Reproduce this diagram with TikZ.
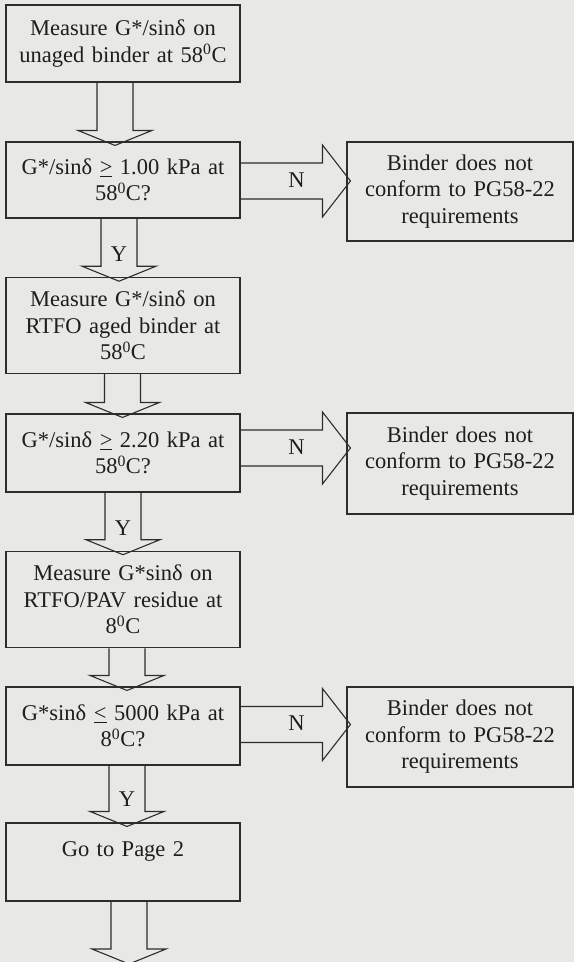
\documentclass[tikz,border=0pt]{standalone}
\usepackage{fontspec}
\setmainfont{Liberation Serif}
\usetikzlibrary{calc}
\definecolor{bg}{RGB}{232,232,230}
\definecolor{ln}{RGB}{45,45,45}
\definecolor{tx}{RGB}{30,30,30}
\newcommand{\gequl}{\underline{>}}
\newcommand{\lequl}{\underline{<}}
\newcommand{\vblock}[4]{%
  \coordinate (vbx) at (#3,0);
  \coordinate (vbs) at (#1 -| vbx);
  \coordinate (vbt) at ($(#2 -| vbx)+(0,4)$);
  \draw[blk] ($(vbs)+(-18,0)$) -- ($(vbt)+(-18,-15)$) -- ($(vbt)+(-37,-15)$) -- (vbt)
    -- ($(vbt)+(37,-15)$) -- ($(vbt)+(18,-15)$) -- ($(vbs)+(18,0)$);
  \node[lbl] at ($(vbt)+(0,-27)$) {#4};
}
\newcommand{\hblock}[4]{%
  \coordinate (hby) at (0,#3);
  \coordinate (hbs) at (#1.east |- hby);
  \coordinate (hbt) at ($(#2.west |- hby)+(4,0)$);
  \draw[blk] ($(hbs)+(0,-18)$) -- ($(hbt)+(-28,-18)$) -- ($(hbt)+(-28,-36)$) -- (hbt)
    -- ($(hbt)+(-28,36)$) -- ($(hbt)+(-28,18)$) -- ($(hbs)+(0,18)$);
  \node[lbl] at ($(hbt)+(-54,-1)$) {#4};
}
\begin{document}
\begin{tikzpicture}[x=1pt,y=-1pt,
  box/.style={draw=ln,line width=1.1pt,inner sep=0pt,text width=234pt,minimum width=234pt,align=center,
    text=tx,font=\fontsize{22.5}{26.5}\selectfont},
  rbox/.style={box,text width=226pt,minimum width=226pt},
  blk/.style={draw=ln,line width=1.1pt,line join=miter},
  lbl/.style={text=tx,font=\fontsize{22.5}{26.5}\selectfont,inner sep=0pt}]
\fill[bg] (0,0) rectangle (574,962);
\useasboundingbox (0,0) rectangle (574,962);
\clip (0,0) rectangle (574,962);
\node[box,minimum height=77pt] (b1) at (123,43.5) {Measure G*/sinδ on\\unaged binder at 58\textsuperscript{0}C};
\node[box,minimum height=76pt] (b2) at (123,180) {G*/sinδ \gequl{} 1.00 kPa at\\58\textsuperscript{0}C?};
\node[rbox,minimum height=99pt] (r1) at (460,191.5) {Binder does not\\conform to PG58-22\\requirements};
\node[box,minimum height=95.5pt] (b3) at (123,325.5) {Measure G*/sinδ on\\RTFO aged binder at\\58\textsuperscript{0}C};
\node[box,minimum height=78pt] (b4) at (123,453) {G*/sinδ \gequl{} 2.20 kPa at\\58\textsuperscript{0}C?};
\node[rbox,minimum height=101pt] (r2) at (460,463.5) {Binder does not\\conform to PG58-22\\requirements};
\node[box,minimum height=96.5pt] (b5) at (123,599.5) {Measure G*sinδ on\\RTFO/PAV residue at\\8\textsuperscript{0}C};
\node[box,minimum height=78pt] (b6) at (123,726) {G*sinδ \lequl{} 5000 kPa at\\8\textsuperscript{0}C?};
\node[rbox,minimum height=100pt] (r3) at (460,737) {Binder does not\\conform to PG58-22\\requirements};
\node[box,minimum height=78pt] (b7) at (123,862) {Go to Page 2\\\mbox{}};
\coordinate (pgend) at (0,960);
\vblock{b1.south}{b2.north}{115}{}
\hblock{b2}{r1}{181}{N}
\vblock{b2.south}{b3.north}{119}{Y}
\vblock{b3.south}{b4.north}{122.5}{}
\hblock{b4}{r2}{448}{N}
\vblock{b4.south}{b5.north}{123}{Y}
\vblock{b5.south}{b6.north}{127}{}
\hblock{b6}{r3}{724.5}{N}
\vblock{b6.south}{b7.north}{127}{Y}
\vblock{b7.south}{pgend}{129}{}
\end{tikzpicture}
\end{document}
